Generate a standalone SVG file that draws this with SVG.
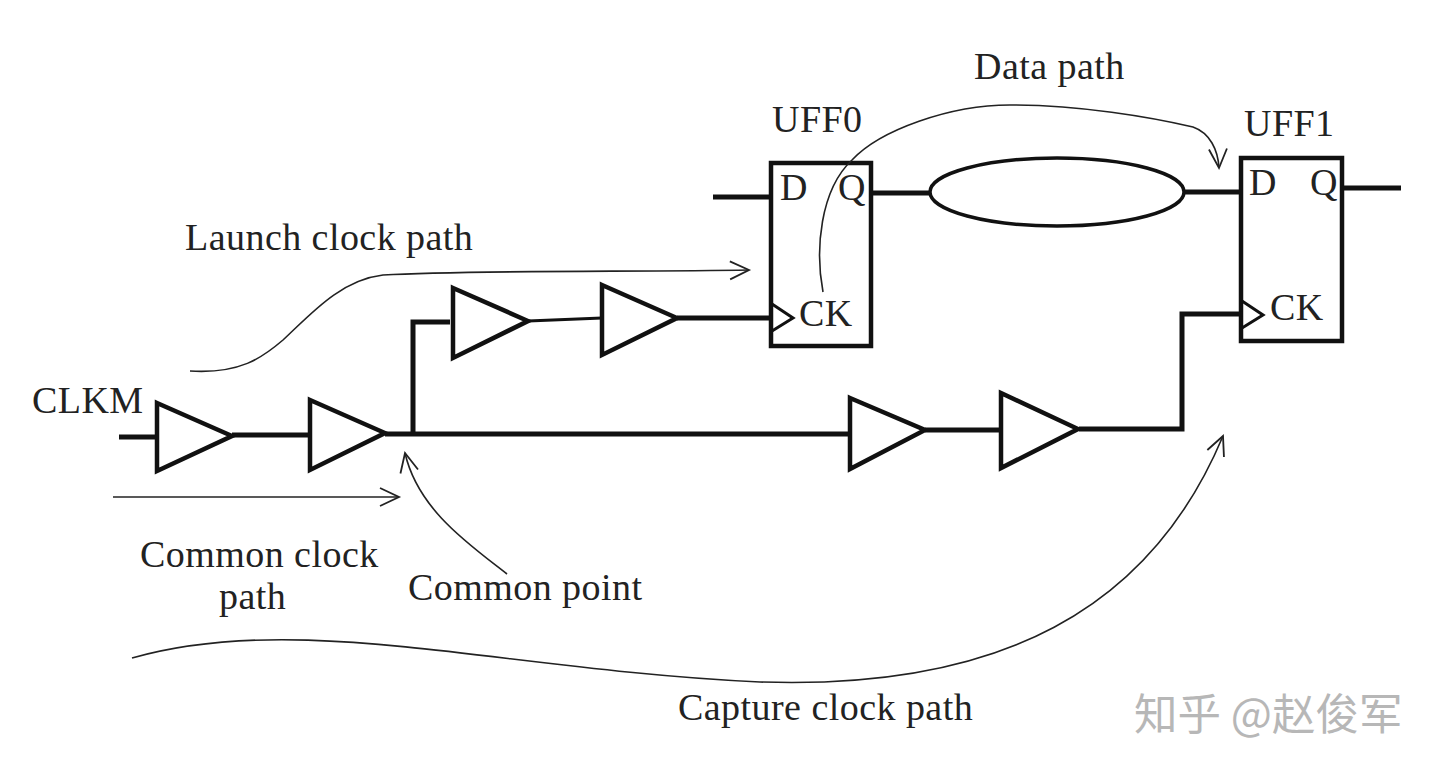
<svg xmlns="http://www.w3.org/2000/svg" width="1440" height="772" viewBox="0 0 1440 772">
<style>
text{font-family:"Liberation Serif",serif;fill:#222}
.l{font-size:38px;letter-spacing:.45px}
.buf,.box{fill:#fff;stroke:#111;stroke-width:4.5}
.oval{fill:#fff;stroke:#111;stroke-width:3.5}
.w{fill:none;stroke:#111;stroke-width:5}
.c{fill:none;stroke:#222;stroke-width:1.6}
.ck{fill:none;stroke:#111;stroke-width:3}
</style>
<defs>
<marker id="a" markerWidth="26" markerHeight="26" refX="20" refY="10" orient="auto" markerUnits="userSpaceOnUse"><path d="M1 1L20 10L1 19" fill="none" stroke="#222" stroke-width="1.8"/></marker>
</defs>
<rect width="1440" height="772" fill="#fff"/>
<g id="uff0"><rect class="box" x="771" y="163" width="100" height="183"/><path class="ck" d="M772 304L793 318L772 331"/><text class="l" x="780" y="200">D</text><text class="l" x="838" y="200">Q</text><text class="l" x="799" y="326">CK</text><text class="l" x="772" y="132">UFF0</text></g>
<g id="uff1"><rect class="box" x="1241" y="158" width="101" height="183"/><path class="ck" d="M1242 301L1263 315L1242 328"/><text class="l" x="1249" y="195">D</text><text class="l" x="1310" y="195">Q</text><text class="l" x="1270" y="320">CK</text><text class="l" x="1244" y="136">UFF1</text></g>
<g id="cloud"><ellipse class="oval" cx="1057" cy="192" rx="127" ry="34"/></g>
<g id="buf1"><path class="buf" d="M157 403L232 436L157 471Z"/></g>
<g id="buf2"><path class="buf" d="M310 400L385 433L310 470Z"/></g>
<g id="buf3"><path class="buf" d="M453 288L528 321L453 358Z"/></g>
<g id="buf4"><path class="buf" d="M602 285L677 318L602 355Z"/></g>
<g id="buf5"><path class="buf" d="M850 398L925 430L850 469Z"/></g>
<g id="buf6"><path class="buf" d="M1001 393L1078 429L1001 468Z"/></g>
<g id="connectors">
<path class="w" d="M119 437H157M232 435H310M385 434H850M413 434V322H450M677 318H772M925 430H1000M1079 429H1182V314H1243M713 197H771M871 193H931M1184 192H1241M1342 188H1401"/>
<path class="w" style="stroke-width:3" d="M528 321L602 318"/>
<path class="c" marker-end="url(#a)" d="M113 497H399"/>
<path class="c" marker-end="url(#a)" d="M190 371C240 374 262 358 283 340C310 315 340 280 383 275C470 270 640 272 749 270"/>
<path class="c" marker-end="url(#a)" d="M507 574C470 545 418 510 405 453"/>
<path class="c" marker-end="url(#a)" d="M132 658C300 610 500 670 760 682C1000 690 1150 610 1223 436"/>
<path class="c" marker-end="url(#a)" d="M823 292C815 250 820 190 852 160C880 130 950 105 1010 105C1080 105 1150 117 1193 127C1210 133 1218 150 1219 168"/>
</g>
<g id="labels">
<text class="l" x="32" y="413">CLKM</text>
<text class="l" x="974" y="79">Data path</text>
<text class="l" x="185" y="250">Launch clock path</text>
<text class="l" x="140" y="567">Common clock</text>
<text class="l" x="219" y="609">path</text>
<text class="l" x="408" y="600">Common point</text>
<text class="l" x="678" y="720">Capture clock path</text>
<text x="1134" y="730" style="font-family:'Noto Sans CJK SC',sans-serif;font-size:43.5px;fill:#999;opacity:.7">知乎 @赵俊军</text>
</g>
</svg>
